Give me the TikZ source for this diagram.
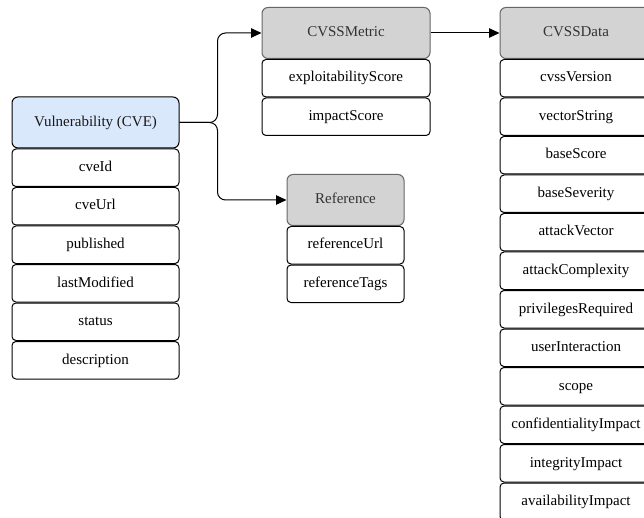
\documentclass[tikz,border=0pt]{standalone}
\usepackage{fontspec}
\setmainfont{Liberation Serif}
\usetikzlibrary{arrows.meta,positioning}
\definecolor{CveBlue}{HTML}{DAE8FC}
\definecolor{CveGrey}{HTML}{D3D3D3}
\definecolor{CveEdge}{HTML}{666666}
\definecolor{CveInk}{HTML}{333333}

\begin{document}
\begin{tikzpicture}[
    x=1pt,y=-1pt,
    node distance=0pt,
    head/.style={draw=black,rounded corners=6pt,minimum height=51pt,line width=1pt,
      inner sep=0pt,text height=10.5pt,text depth=3pt,font=\fontsize{15}{18}\selectfont},
    entity/.style={head,fill=CveBlue,text=black!90},
    table/.style={head,fill=CveGrey,draw=CveEdge,text=CveInk},
    cell/.style={draw=black,rounded corners=4pt,minimum height=37.5pt,line width=1pt,
      inner sep=0pt,text height=10.5pt,text depth=3pt,font=\fontsize{15}{18}\selectfont,
      minimum width=#1},
    arrow/.style={-{Triangle[length=10.5pt,width=9.5pt]},line width=1pt,rounded corners=8pt}
  ]
    \useasboundingbox (0,0) rectangle (644,518);
    % vulnerability record
    \node[entity,minimum width=167pt] (vuln) at (95.5,122.5) {Vulnerability (CVE)};
    \node[cell=167pt,below=of vuln] (id) {cveId};
    \node[cell=167pt,below=of id] (url) {cveUrl};
    \node[cell=167pt,below=of url] (pub) {published};
    \node[cell=167pt,below=of pub] (mod) {lastModified};
    \node[cell=167pt,below=of mod] (stat) {status};
    \node[cell=167pt,below=of stat] (desc) {description};
    % metrics
    \node[table,minimum width=168pt] (metric) at (346,33) {CVSSMetric};
    \node[cell=168pt,below=of metric] (expl) {exploitabilityScore};
    \node[cell=168pt,below=of expl] (imp) {impactScore};
    % references
    \node[table,minimum width=117pt] (ref) at (345.5,200) {Reference};
    \node[cell=117pt,below=of ref] (rurl) {referenceUrl};
    \node[cell=117pt,below=of rurl] (rtag) {referenceTags};
    % cvss data
    \node[table,minimum width=152pt] (data) at (576,33) {CVSSData};
    \node[cell=152pt,below=of data] (ver) {cvssVersion};
    \node[cell=152pt,below=of ver] (vec) {vectorString};
    \node[cell=152pt,below=of vec] (base) {baseScore};
    \node[cell=152pt,below=of base] (sev) {baseSeverity};
    \node[cell=152pt,below=of sev] (av) {attackVector};
    \node[cell=152pt,below=of av] (ac) {attackComplexity};
    \node[cell=152pt,below=of ac] (pr) {privilegesRequired};
    \node[cell=152pt,below=of pr] (ui) {userInteraction};
    \node[cell=152pt,below=of ui] (scope) {scope};
    \node[cell=152pt,below=of scope] (conf) {confidentialityImpact};
    \node[cell=152pt,below=of conf] (integ) {integrityImpact};
    \node[cell=152pt,below=of integ] (avail) {availabilityImpact};
    \draw[arrow] (vuln.east) -- ++(38,0) |- (metric.west);
    \draw[arrow] (vuln.east) -- ++(38,0) |- (ref.west);
    \draw[arrow] (metric.east) -- (data.west);
  \end{tikzpicture}
\end{document}
